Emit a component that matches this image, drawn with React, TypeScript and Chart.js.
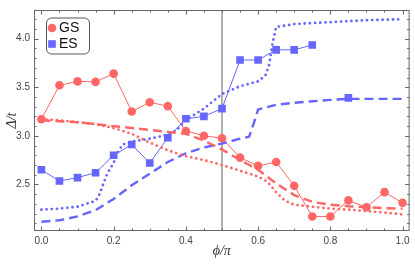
import React, { useEffect, useRef } from "react";
import { Chart, registerables } from "chart.js";
Chart.register(...registerables);

// ---- data ----
const gsX = [0, 0.05, 0.1, 0.15, 0.2, 0.25, 0.3, 0.35, 0.4, 0.45, 0.5, 0.55, 0.6, 0.65, 0.7, 0.75, 0.8, 0.85, 0.9, 0.95, 1.0];
const gsY = [3.17, 3.52, 3.56, 3.555, 3.64, 3.25, 3.345, 3.305, 3.05, 3.0, 2.975, 2.775, 2.69, 2.73, 2.485, 2.17, 2.17, 2.335, 2.265, 2.42, 2.31];

// ES has no value at 0.8 (gap in the connecting line)
const esX = [0, 0.05, 0.1, 0.15, 0.2, 0.25, 0.3, 0.35, 0.4, 0.45, 0.5, 0.55, 0.6, 0.65, 0.7, 0.75, 0.8, 0.85];
const esY = [2.65, 2.535, 2.57, 2.62, 2.8, 2.91, 2.72, 2.98, 3.175, 3.2, 3.28, 3.78, 3.78, 3.885, 3.885, 3.935, null, 3.39];

const gsDashX = [0, 0.05, 0.1, 0.15, 0.2, 0.25, 0.3, 0.35, 0.4, 0.45, 0.5, 0.55, 0.6, 0.65, 0.7, 0.75, 0.8, 0.85, 0.9, 0.95, 1.0];
const gsDashY = [3.16, 3.15, 3.14, 3.12, 3.1, 3.08, 3.06, 3.04, 3.02, 2.95, 2.86, 2.75, 2.65, 2.51, 2.39, 2.32, 2.29, 2.275, 2.265, 2.255, 2.25];

const gsDotX = [0, 0.05, 0.1, 0.15, 0.2, 0.25, 0.3, 0.35, 0.4, 0.45, 0.5, 0.55, 0.6, 0.625, 0.65, 0.675, 0.7, 0.75, 0.8, 0.85, 0.9, 0.95, 1.0];
const gsDotY = [3.17, 3.16, 3.14, 3.12, 3.08, 3.02, 2.93, 2.85, 2.79, 2.75, 2.7, 2.64, 2.58, 2.53, 2.42, 2.33, 2.29, 2.27, 2.25, 2.24, 2.225, 2.21, 2.19];

const esDashX = [0, 0.05, 0.1, 0.15, 0.2, 0.25, 0.3, 0.35, 0.4, 0.45, 0.5, 0.55, 0.575, 0.59, 0.6, 0.65, 0.7, 0.75, 0.8, 0.85, 0.9, 0.95, 1.0];
const esDashY = [2.115, 2.13, 2.17, 2.235, 2.35, 2.49, 2.61, 2.73, 2.82, 2.88, 2.92, 2.97, 2.99, 3.15, 3.27, 3.32, 3.34, 3.355, 3.37, 3.38, 3.38, 3.38, 3.38];

const esDotX = [0, 0.05, 0.1, 0.15, 0.16, 0.17, 0.18, 0.19, 0.2, 0.21, 0.225, 0.25, 0.3, 0.35, 0.375, 0.4, 0.45, 0.5, 0.55, 0.6, 0.62, 0.63, 0.64, 0.65, 0.7, 0.75, 0.8, 0.85, 0.9, 0.95, 1.0];
const esDotY = [2.24, 2.25, 2.27, 2.33, 2.39, 2.49, 2.59, 2.66, 2.72, 2.82, 2.91, 2.94, 2.97, 3.01, 3.06, 3.16, 3.28, 3.43, 3.51, 3.56, 3.62, 3.72, 3.95, 4.12, 4.15, 4.16, 4.17, 4.18, 4.19, 4.195, 4.2];

const xMajorTicks = [0, 0.2, 0.4, 0.6, 0.8, 1.0];
const xMinorTicks = [0.05, 0.1, 0.15, 0.25, 0.3, 0.35, 0.45, 0.5, 0.55, 0.65, 0.7, 0.75, 0.85, 0.9, 0.95];
const yMajorTicks = [2.5, 3.0, 3.5, 4.0];
const yMinorTicks = [2.1, 2.2, 2.3, 2.4, 2.6, 2.7, 2.8, 2.9, 3.1, 3.2, 3.3, 3.4, 3.6, 3.7, 3.8, 3.9, 4.1, 4.2];
const markerLine = 0.5;

const RED = "rgb(255,102,102)";
const BLUE = "rgb(102,102,255)";
const FRAME = "#666";

const pts = (xs: number[], ys: (number | null)[]) => xs.map((x, i) => ({ x, y: ys[i] }));

const decorPlugin = {
  id: "decor",
  beforeDatasetsDraw(chart: any) {
    const { ctx, chartArea } = chart;
    const xs = chart.scales.x;
    const px = xs.getPixelForValue(markerLine);
    ctx.save();
    ctx.strokeStyle = "#999";
    ctx.lineWidth = 1.5;
    ctx.beginPath();
    ctx.moveTo(px, chartArea.top);
    ctx.lineTo(px, chartArea.bottom);
    ctx.stroke();
    ctx.restore();
  },
  afterDraw(chart: any) {
    const { ctx, chartArea } = chart;
    const { left, right, top, bottom } = chartArea;
    const xs = chart.scales.x;
    const ys = chart.scales.y;
    ctx.save();
    ctx.strokeStyle = FRAME;
    ctx.lineWidth = 1;
    ctx.strokeRect(left + 0.5, top + 0.5, right - left - 1, bottom - top - 1);
    const tick = (vals: number[], len: number, horiz: boolean) => {
      for (const v of vals) {
        if (horiz) {
          const p = Math.round(xs.getPixelForValue(v)) + 0.5;
          ctx.beginPath();
          ctx.moveTo(p, bottom);
          ctx.lineTo(p, bottom - len);
          ctx.moveTo(p, top);
          ctx.lineTo(p, top + len);
          ctx.stroke();
        } else {
          const p = Math.round(ys.getPixelForValue(v)) + 0.5;
          ctx.beginPath();
          ctx.moveTo(left, p);
          ctx.lineTo(left + len, p);
          ctx.moveTo(right, p);
          ctx.lineTo(right - len, p);
          ctx.stroke();
        }
      }
    };
    tick(xMajorTicks, 4.5, true);
    tick(xMinorTicks, 2.5, true);
    tick(yMajorTicks, 4.5, false);
    tick(yMinorTicks, 2.5, false);

    // legend
    const bx = left + 12, by = top + 7.5, bw = 43, bh = 36;
    ctx.fillStyle = "#fff";
    ctx.strokeStyle = "#555";
    ctx.beginPath();
    (ctx as any).roundRect(bx + 0.5, by + 0.5, bw, bh, 5);
    ctx.fill();
    ctx.stroke();
    const items = chart.data.datasets.filter((d: any) => d.showInLegend);
    items.forEach((d: any, i: number) => {
      const cy = by + 10.5 + i * 16;
      const cx = bx + 6;
      ctx.fillStyle = d.backgroundColor;
      if (d.pointStyle === "rect") {
        ctx.fillRect(cx - 3.8, cy - 3.8, 7.6, 7.6);
      } else {
        ctx.beginPath();
        ctx.arc(cx, cy, 4.3, 0, Math.PI * 2);
        ctx.fill();
      }
      ctx.fillStyle = "#111";
      ctx.font = "14px 'Liberation Sans', Arial, sans-serif";
      ctx.textBaseline = "middle";
      ctx.textAlign = "left";
      ctx.fillText(d.label, cx + 7, cy + 0.5);
    });
    ctx.restore();
  },
};

export default function App() {
  const ref = useRef<HTMLCanvasElement>(null);
  useEffect(() => {
    if (!ref.current) return;
    const lineCommon = { pointRadius: 0, fill: false, tension: 0 };
    const chart = new Chart(ref.current, {
      type: "line",
      data: {
        datasets: [
          { ...lineCommon, label: "gs dotted", data: pts(gsDotX, gsDotY), borderColor: RED, borderWidth: 2.8, borderDash: [0, 5.2], borderCapStyle: "round" },
          { ...lineCommon, label: "gs dashed", data: pts(gsDashX, gsDashY), borderColor: RED, borderWidth: 2.4, borderDash: [9, 5] },
          { ...lineCommon, label: "es dotted", data: pts(esDotX, esDotY), borderColor: BLUE, borderWidth: 2.8, borderDash: [0, 5.2], borderCapStyle: "round" },
          { ...lineCommon, label: "es dashed", data: pts(esDashX, esDashY), borderColor: BLUE, borderWidth: 2.4, borderDash: [9, 5] },
          { label: "GS", showInLegend: true, data: pts(gsX, gsY), borderColor: RED, backgroundColor: RED, borderWidth: 1, pointRadius: 4.3, pointStyle: "circle", pointBorderWidth: 0, pointBackgroundColor: RED, tension: 0, fill: false } as any,
          { label: "ES", showInLegend: true, data: pts(esX, esY), spanGaps: false, borderColor: BLUE, backgroundColor: BLUE, borderWidth: 1, pointRadius: 5.4, pointStyle: "rect", pointBorderWidth: 0, pointBackgroundColor: BLUE, tension: 0, fill: false } as any,
        ] as any,
      },
      options: {
        animation: false,
        responsive: false,
        devicePixelRatio: 1,
        layout: { padding: { top: 1, right: 1, left: 0, bottom: 0 } },
        plugins: { legend: { display: false }, tooltip: { enabled: false } },
        scales: {
          x: {
            type: "linear",
            min: -0.0205,
            max: 1.0195,
            grid: { display: false, drawTicks: false },
            border: { display: false },
            afterBuildTicks: (s: any) => { s.ticks = xMajorTicks.map((v) => ({ value: v })); },
            afterFit: (s: any) => { s.height = 33; },
            ticks: {
              padding: 4,
              color: "#444",
              font: { size: 10, family: "'Liberation Sans', Arial, sans-serif" },
              callback: (v: any) => Number(v).toFixed(1),
            },
            title: {
              display: true,
              text: "ϕ/π",
              color: "#333",
              font: { size: 14, style: "italic", family: "'Liberation Serif', 'DejaVu Serif', serif" },
              padding: { top: 0, bottom: 4 },
            },
          },
          y: {
            type: "linear",
            min: 2.02,
            max: 4.295,
            grid: { display: false, drawTicks: false },
            border: { display: false },
            afterBuildTicks: (s: any) => { s.ticks = yMajorTicks.map((v) => ({ value: v })); },
            afterFit: (s: any) => { s.width = 34; },
            ticks: {
              padding: 4,
              color: "#444",
              font: { size: 10, family: "'Liberation Sans', Arial, sans-serif" },
              callback: (v: any) => Number(v).toFixed(1),
            },
            title: {
              display: true,
              text: "Δ/t",
              color: "#333",
              font: { size: 14, style: "italic", family: "'Liberation Serif', 'DejaVu Serif', serif" },
              padding: { top: 3.5, bottom: 0 },
            },
          },
        },
      },
      plugins: [decorPlugin],
    } as any);
    return () => chart.destroy();
  }, []);
  return (
    <div style={{ position: "fixed", left: 0, top: 0, width: 415, height: 264, background: "#fff" }}>
      <canvas ref={ref} width={415} height={264} style={{ display: "block" }} />
    </div>
  );
}
